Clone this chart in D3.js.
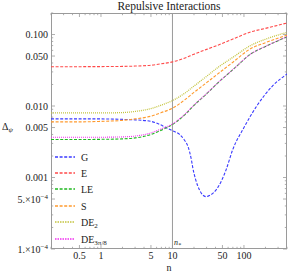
<!DOCTYPE html>
<html>
<head>
<meta charset="utf-8">
<script src="https://cdn.jsdelivr.net/npm/d3@7"></script>
<style>
body{margin:0;background:#fff;}
svg{display:block;}
text{font-family:"Liberation Serif","Times New Roman",serif;fill:#222;}
</style>
</head>
<body>
<svg id="chart" width="288" height="275"></svg>
<script>
// ---- data ----
const title = "Repulsive Interactions";
const xTickLabels = [0.5, 1, 5, 10, 50, 100];
const yTickValues = [1e-4, 5e-4, 0.001, 0.005, 0.01, 0.05, 0.1];
const yTickLabels = ["1.\u00d710|\u22124", "5.\u00d710|\u22124", "0.001", "0.005", "0.010", "0.050", "0.100"];
const nStar = 10;

const nGrid = [0.2, 0.5, 1, 2, 3, 5, 7, 10, 15, 20, 30, 43, 70, 125, 200, 400];
const valE   = [0.0355,0.0355,0.0356,0.0358,0.0362,0.0372,0.039,0.0414,0.047,0.053,0.062,0.0708,0.0863,0.109,0.122,0.145];
const valLE  = [0.0034,0.0034,0.00342,0.00347,0.00358,0.0040,0.0046,0.0055,0.0076,0.0102,0.0148,0.021,0.0322,0.0536,0.068,0.093];
const valS   = [0.0060,0.0060,0.0061,0.0063,0.0066,0.0072,0.0081,0.0093,0.0123,0.0155,0.0212,0.0281,0.041,0.0637,0.077,0.098];
const valDE2 = [0.0080,0.0080,0.0080,0.0081,0.0084,0.0092,0.0103,0.0119,0.0152,0.019,0.026,0.0345,0.048,0.0705,0.086,0.107];
const valDE3 = [0.00365,0.00365,0.00366,0.0037,0.0038,0.0042,0.0048,0.0056,0.0077,0.0103,0.0149,0.0211,0.0323,0.0537,0.0682,0.0935];

const nG   = [0.2, 0.5, 1, 2, 3, 5, 6.7, 7.8, 10, 12.6, 14.5, 16.5, 18.4, 19.3, 21, 23.9, 26.5, 29.7, 33, 40.8, 56.2, 69.5, 100, 155, 250, 400];
const valG = [0.0066,0.0066,0.0066,0.0065,0.0064,0.0061,0.0055,0.0051,0.0045,0.0040,0.0034,0.0027,0.00177,0.00135,0.00095,0.00067,0.00057,0.00054,0.00056,0.00067,0.00128,0.00244,0.0050,0.0104,0.019,0.028];

const seriesNames = ["G", "E", "LE", "S", "DE|2", "DE|3\u03c0/8"];

// ---- layout ----
const L = 51, R = 287, T = 13, B = 249;
const svg = d3.select("#chart");
const x = d3.scaleLog().domain([0.2, 400]).range([L, R]);
const y = d3.scaleLog().domain([1e-4, 0.2]).range([B, T]);

const series = [
  {name: seriesNames[0], n: nG, v: valG, color: "#3a3aff", dash: "3,1.6", w: 1.1, legDash: "3,1.6", legW: 1.3},
  {name: seriesNames[1], n: nGrid, v: valE, color: "#ff4a4a", dash: "3,1.6", w: 1.1, legDash: "3,1.6", legW: 1.3},
  {name: seriesNames[2], n: nGrid, v: valLE, color: "#1fb81f", dash: "3,1.6", w: 1.1, legDash: "3,1.6", legW: 1.3},
  {name: seriesNames[3], n: nGrid, v: valS, color: "#ff9a2e", dash: "3,1.6", w: 1.1, legDash: "3,1.6", legW: 1.3},
  {name: seriesNames[4], n: nGrid, v: valDE2, color: "#c4c440", dash: "1,1", w: 1.3, legDash: "1.5,1", legW: 1.6},
  {name: seriesNames[5], n: nGrid, v: valDE3, color: "#f030f0", dash: "1,1", w: 1.1, legDash: "1.5,1", legW: 1.6}
];

// clip
svg.append("clipPath").attr("id","clip").append("rect")
  .attr("x", L).attr("y", T).attr("width", R - L).attr("height", B - T);

// frame
const frameColor = "#9a9a9a";
svg.append("rect").attr("x", L + 0.5).attr("y", T + 0.5).attr("width", R - L - 1).attr("height", B - T - 1)
  .attr("fill", "none").attr("stroke", frameColor).attr("stroke-width", 1);

// n* vertical line
svg.append("line").attr("x1", x(nStar)).attr("x2", x(nStar)).attr("y1", T).attr("y2", B)
  .attr("stroke", frameColor).attr("stroke-width", 1);

// ticks
function logTicks(lo, hi) {
  const out = [];
  for (let e = Math.floor(Math.log10(lo)) ; e <= Math.ceil(Math.log10(hi)); e++) {
    for (let m = 1; m < 10; m++) {
      const v = m * Math.pow(10, e);
      if (v >= lo * 0.999 && v <= hi * 1.001) out.push({v, major: (m === 1 || m === 5)});
    }
  }
  return out;
}
const tg = svg.append("g").attr("stroke", frameColor).attr("stroke-width", 0.8);
logTicks(0.2, 400).forEach(t => {
  const len = t.major ? 4 : 2.2;
  const px = x(t.v);
  tg.append("line").attr("x1", px).attr("x2", px).attr("y1", B).attr("y2", B - len);
  tg.append("line").attr("x1", px).attr("x2", px).attr("y1", T).attr("y2", T + len);
});
logTicks(1e-4, 0.2).forEach(t => {
  const len = t.major ? 4 : 2.2;
  const py = y(t.v);
  tg.append("line").attr("x1", L).attr("x2", L + len).attr("y1", py).attr("y2", py);
  tg.append("line").attr("x1", R).attr("x2", R - len).attr("y1", py).attr("y2", py);
});

// x tick labels
svg.append("g").selectAll("text").data(xTickLabels).join("text")
  .attr("x", d => x(d)).attr("y", B + 10).attr("text-anchor", "middle")
  .attr("font-size", 10).text(d => String(d));

// y tick labels
const yl = svg.append("g");
yTickValues.forEach((v, i) => {
  const parts = yTickLabels[i].split("|");
  const t = yl.append("text").attr("x", 48).attr("y", y(v) + 3.5).attr("text-anchor", "end").attr("font-size", 10);
  t.append("tspan").text(parts[0]);
  if (parts[1]) t.append("tspan").attr("font-size", 7).attr("dy", -4).text(parts[1]);
});

// axis labels
svg.append("text").attr("x", 169).attr("y", 271).attr("text-anchor", "middle").attr("font-size", 10).text("n");
const yLab = svg.append("text").attr("x", 2).attr("y", 130).attr("font-size", 10);
yLab.append("tspan").text("\u0394");
yLab.append("tspan").attr("font-size", 7).attr("dy", 2).attr("font-style", "italic").text("\u03c8");

// n* label
const ns = svg.append("text").attr("x", x(nStar) + 1.5).attr("y", 245).attr("font-size", 8).attr("font-style", "italic");
ns.append("tspan").text("n");
ns.append("tspan").attr("font-size", 6).attr("dy", 1.5).text("*");

// title
svg.append("text").attr("x", 169).attr("y", 10).attr("text-anchor", "middle").attr("font-size", 11.5).text(title);

// curves
const line = d3.line().x(d => x(d[0])).y(d => y(d[1])).curve(d3.curveMonotoneX);
const cg = svg.append("g").attr("clip-path", "url(#clip)");
series.forEach(s => {
  cg.append("path").attr("d", line(s.n.map((n, i) => [n, s.v[i]])))
    .attr("fill", "none").attr("stroke", s.color).attr("stroke-width", s.w)
    .attr("stroke-dasharray", s.dash);
});

// legend
const legY0 = 156.5, legDy = 16.4;
series.forEach((s, i) => {
  const yy = Math.round(legY0 + i * legDy);
  svg.append("line").attr("x1", 55).attr("x2", 75).attr("y1", yy).attr("y2", yy)
    .attr("stroke", s.color).attr("stroke-width", s.legW).attr("stroke-dasharray", s.legDash);
  const parts = s.name.split("|");
  const t = svg.append("text").attr("x", 81).attr("y", yy + 3.5).attr("font-size", 10);
  t.append("tspan").text(parts[0]);
  if (parts[1]) t.append("tspan").attr("font-size", 7).attr("dy", 2).text(parts[1]);
});
</script>
</body>
</html>
